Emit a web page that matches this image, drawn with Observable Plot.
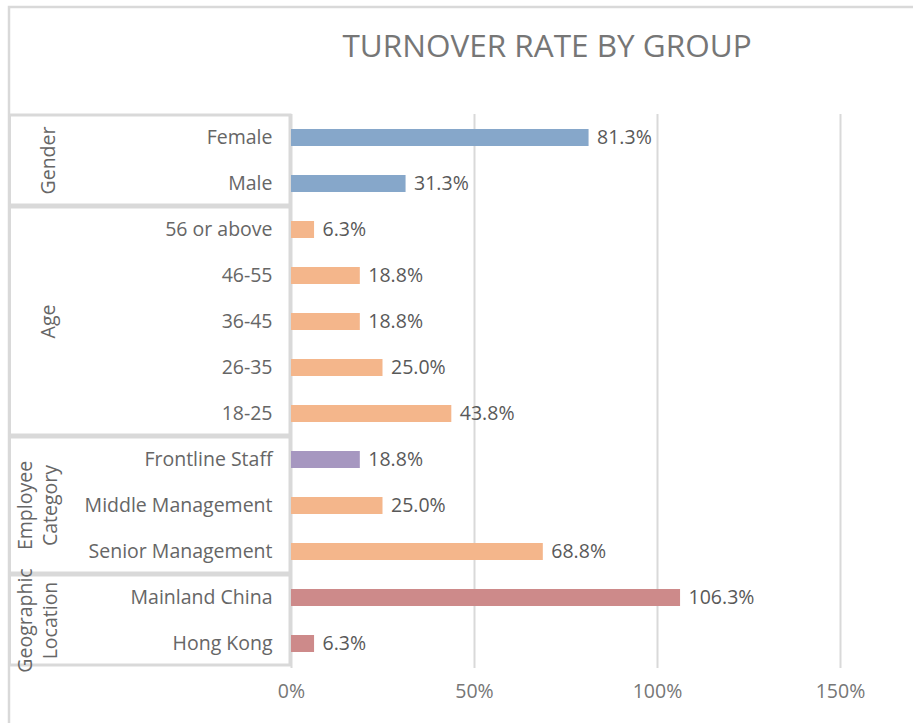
<!DOCTYPE html>
<html>
<head>
<meta charset="utf-8">
<script src="https://cdn.jsdelivr.net/npm/d3@7"></script>
<script src="https://cdn.jsdelivr.net/npm/@observablehq/plot@0.6"></script>
<style>
  html, body { margin: 0; padding: 0; background: #fff; }
  #chart { position: relative; width: 913px; height: 723px; }
</style>
</head>
<body>
<div id="chart"></div>
<script>
// ---- data ----
const title = "TURNOVER RATE BY GROUP";
const categories = ["Female", "Male", "56 or above", "46-55", "36-45", "26-35", "18-25",
  "Frontline Staff", "Middle Management", "Senior Management", "Mainland China", "Hong Kong"];
const groupOf = ["Gender", "Gender", "Age", "Age", "Age", "Age", "Age",
  "Employee Category", "Employee Category", "Employee Category", "Geographic Location", "Geographic Location"];
const values = [81.3, 31.3, 6.3, 18.8, 18.8, 25.0, 43.8, 18.8, 25.0, 68.8, 106.3, 6.3];
const groupNames = ["Gender", "Age", "Employee Category", "Geographic Location"];
const groupLabelLines = [["Gender"], ["Age"], ["Employee", "Category"], ["Geographic", "Location"]];
const xTicks = [0, 50, 100, 150];

// ---- styles ----
const BLUE = "#86a7ca", PEACH = "#f4b68b", PURPLE = "#a697c0", ROSE = "#cd8a8a";
const barColors = [BLUE, BLUE, PEACH, PEACH, PEACH, PEACH, PEACH, PURPLE, PEACH, PEACH, ROSE, ROSE];

const rows = categories.map((c, i) => ({category: c, group: groupOf[i], value: values[i], color: barColors[i]}));

const FONT = "'Open Sans', sans-serif";

const plot = Plot.plot({
  width: 913,
  height: 723,
  marginLeft: 291,
  marginRight: 73,
  marginTop: 114,
  marginBottom: 55,
  style: {fontFamily: FONT, fontSize: "19.5px", color: "#595959", background: "white", overflow: "visible"},
  x: {domain: [0, 150], ticks: xTicks, tickFormat: d => d + "%", tickSize: 0, tickPadding: 16, label: null},
  y: {domain: categories, paddingInner: 0.63, paddingOuter: 0.315, tickSize: 0, tickPadding: 19, label: null},
  color: {type: "identity"},
  marks: [
    Plot.ruleX(xTicks, {x: d => d, stroke: "#d9d9d9", strokeWidth: 2}),
    Plot.barX(rows, {x: "value", y: "category", fill: "color"}),
    Plot.text(rows, {x: "value", y: "category", text: d => d.value.toFixed(1) + "%",
      textAnchor: "start", dx: 8, fill: "#595959", fontSize: 19.5})
  ]
});

const svg = d3.select(plot);
svg.selectAll("[aria-label='x-axis'] text, [aria-label='x-axis tick label'] text").attr("fill", "#767676");
svg.selectAll("[aria-label='y-axis'] text, [aria-label='y-axis tick label'] text").attr("fill", "#666666");

// decorations using the plot's own y scale
const ys = plot.scale("y");
const bw = ys.bandwidth;
const step = ys.apply(categories[1]) - ys.apply(categories[0]);
const gap = (step - bw) / 2;
const deco = svg.insert("g", ":first-child");

// outer frame
deco.append("rect").attr("x", 9).attr("y", 7).attr("width", 1000).attr("height", 1000)
  .attr("fill", "none").attr("stroke", "#d9d9d9").attr("stroke-width", 2.5);

groupNames.forEach((g, gi) => {
  const cats = categories.filter((c, i) => groupOf[i] === g);
  const y0 = ys.apply(cats[0]) - gap;
  const y1 = ys.apply(cats[cats.length - 1]) + bw + gap;
  deco.append("rect").attr("x", 9.5).attr("y", y0 + 0.5).attr("width", 280.5).attr("height", y1 - y0 - 2)
    .attr("fill", "none").attr("stroke", "#d9d9d9").attr("stroke-width", 3);
  const lines = groupLabelLines[gi];
  const yc = (y0 + y1) / 2;
  lines.forEach((ln, li) => {
    const xc = lines.length === 1 ? 48 : (li === 0 ? 25 : 50);
    svg.append("text").text(ln)
      .attr("transform", `translate(${xc},${yc}) rotate(-90)`)
      .attr("text-anchor", "middle").attr("dy", "0.35em")
      .attr("font-family", FONT).attr("font-size", 19.5).attr("fill", "#666666");
  });
});

// title
svg.append("text").text(title)
  .attr("x", 547).attr("y", 57).attr("text-anchor", "middle")
  .attr("font-family", FONT).attr("font-size", 31.5).attr("fill", "#767676");

document.getElementById("chart").appendChild(plot);
</script>
</body>
</html>
